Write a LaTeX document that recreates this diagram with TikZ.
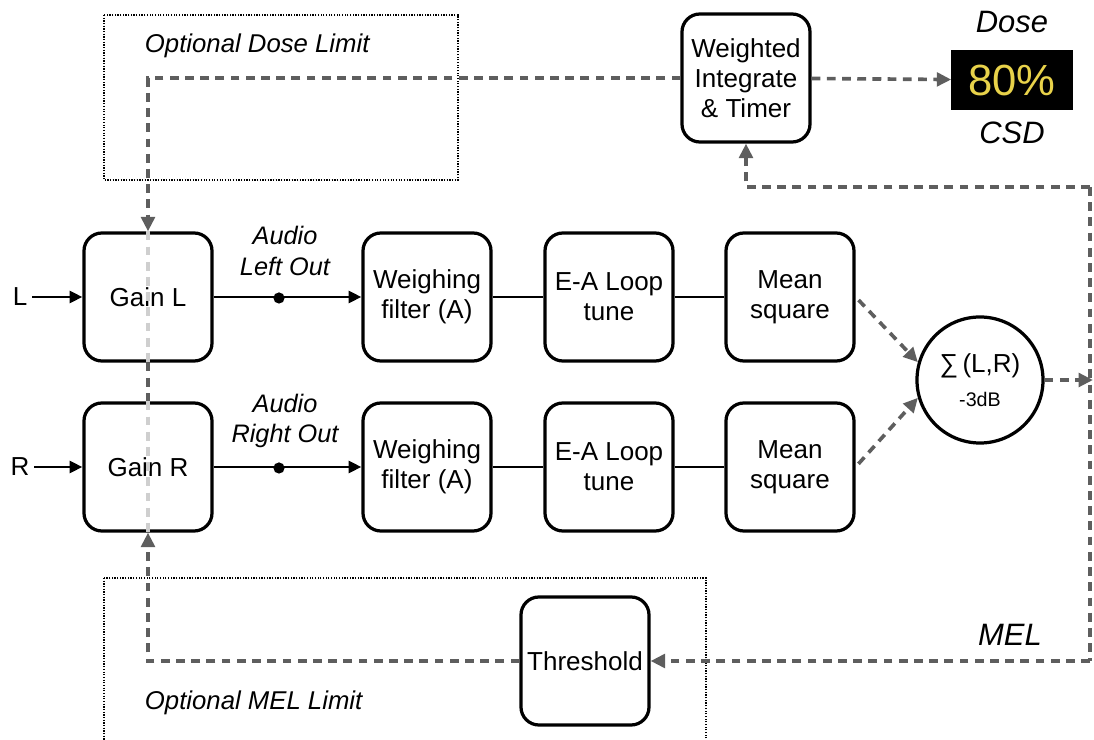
\documentclass[tikz,border=0pt]{standalone}
\usepackage{fontspec}
\setmainfont{Liberation Sans}
\usetikzlibrary{arrows.meta}
\definecolor{dashgray}{HTML}{5E5E5E}
\definecolor{ghostgray}{HTML}{CFCFCF}
\definecolor{doseyellow}{HTML}{E8D24A}

\begin{document}
\begin{tikzpicture}[x=0.025cm, y=-0.025cm]
    % Define styles
    \tikzstyle{block} = [draw, line width=2.3pt, rounded corners=0.45cm, fill=white, minimum width=3.2cm, minimum height=3.2cm, align=center, inner sep=2pt, font=\fontsize{18.5}{21.5}\selectfont]
    \tikzstyle{sig} = [line width=2pt, -{Triangle[length=0.32cm, width=0.3cm]}]
    \tikzstyle{wire} = [line width=2pt]
    \tikzstyle{flow} = [dashgray, line width=2.6pt, dash pattern=on 0.22cm off 0.16cm, -{Triangle[length=0.36cm, width=0.34cm]}]
    \tikzstyle{flowline} = [dashgray, line width=2.6pt, dash pattern=on 0.22cm off 0.16cm]
    \tikzstyle{ghost} = [ghostgray, line width=2.6pt, dash pattern=on 0.22cm off 0.16cm]
    \tikzstyle{limitbox} = [draw, densely dotted, line width=0.9pt]
    \tikzstyle{note} = [align=center, font=\fontsize{18}{21.5}\selectfont\itshape]
    \tikzstyle{dot} = [circle, fill=black, inner sep=0pt, minimum size=0.28cm]

    \useasboundingbox (0,0) rectangle (1094,740);

    % Optional limit regions
    \draw[limitbox] (104,15) rectangle (458,180);
    \draw[limitbox] (104,578) rectangle (706,750);
    \node[note, anchor=west, font=\fontsize{18.3}{22}\selectfont\itshape] (doseLimit) at (140,46) {Optional Dose Limit};
    \node[note, anchor=west, font=\fontsize{18.3}{22}\selectfont\itshape] (melLimit) at (140,703) {Optional MEL Limit};

    % Nodes
    \node[font=\fontsize{18.5}{21}\selectfont] (inL) at (20,297) {L};
    \node[font=\fontsize{18.5}{21}\selectfont] (inR) at (20,467) {R};
    \node[block] (gainL) at (148,297) {Gain L};
    \node[block] (gainR) at (148,467) {Gain R};
    \node[dot] (dotL) at (279,298) {};
    \node[dot] (dotR) at (279,468) {};
    \node[note] (outL) at (285,251) {Audio\\Left Out};
    \node[note] (outR) at (285,421) {Audio\\Right Out};
    \node[block] (wfL) at (427,297) {Weighing\\filter (A)};
    \node[block] (wfR) at (427,467) {Weighing\\filter (A)};
    \node[block] (eaL) at (609,297) {E-A Loop\\tune};
    \node[block] (eaR) at (609,467) {E-A Loop\\tune};
    \node[block] (msL) at (790,297) {Mean\\square};
    \node[block] (msR) at (790,467) {Mean\\square};
    \node[circle, draw, line width=2.3pt, minimum size=3.15cm, align=center, inner sep=0pt, fill=white, font=\fontsize{18.5}{22}\selectfont] (sum) at (980,380) {∑\,(L,R)\\[2pt]{\fontsize{14}{16}\selectfont -3dB}};
    \node[block] (wit) at (746,78) {Weighted\\Integrate\\\& Timer};
    \node[fill=black, minimum width=3.025cm, minimum height=1.5cm, text=doseyellow, font=\fontsize{31}{34}\selectfont] (dose) at (1012,80) {80\%};
    \node[note, font=\fontsize{22}{26}\selectfont\itshape] (doseTop) at (1012,22) {Dose};
    \node[note, font=\fontsize{22}{26}\selectfont\itshape] (csd) at (1012,133) {CSD};
    \node[block] (thr) at (585,661) {Threshold};
    \node[note, font=\fontsize{22}{26}\selectfont\itshape] (mel) at (1010,635) {MEL};

    \coordinate (sumOut) at (1093,380);
    \coordinate (loopTop) at (1090,187);
    \coordinate (loopBot) at (1090,661);

    % Signal path
    \draw[sig] (inL) -- (gainL);
    \draw[sig] (inR) -- (gainR);
    \draw[sig] (gainL) -- (wfL);
    \draw[sig] (gainR) -- (wfR);
    \draw[wire] (wfL) -- (eaL);
    \draw[wire] (eaL) -- (msL);
    \draw[wire] (wfR) -- (eaR);
    \draw[wire] (eaR) -- (msR);

    % Flow arrows
    \draw[flow, shorten <=3pt] (msL.east) -- (sum.164);
    \draw[flow, shorten <=3pt] (msR.east) -- (sum.196);
    \draw[flow] (sum) -- (sumOut);
    \draw[flowline] (loopTop) -- (loopBot);
    \draw[flow] (loopTop) -| (wit);
    \draw[flow] (wit) -- (dose);
    \draw[flow] (loopBot) -- (thr);
    \draw[flow] (wit) -| (gainL);
    \draw[flow] (thr) -| (gainR);
    \draw[flowline] (gainL) -- (gainR);
    \draw[ghost] (gainL.north) -- (gainL.south);
    \draw[ghost] (gainR.north) -- (gainR.south);
\end{tikzpicture}
\end{document}
